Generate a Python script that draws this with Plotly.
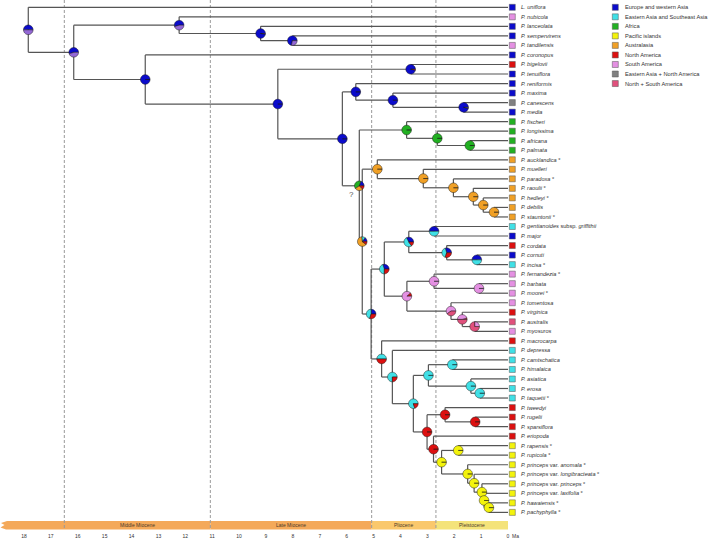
import math
import plotly.graph_objects as go

# ---------------- data ----------------
region_codes = ["EU", "EA", "AF", "PI", "AU", "NA", "SA", "EANA", "NSA"]
region_names = ["Europe and western Asia", "Eastern Asia and Southeast Asia", "Africa",
                "Pacific islands", "Australasia", "North America", "South America",
                "Eastern Asia + North America", "North + South America"]
region_colors = ["#0B0BCB", "#40E0E6", "#22B022", "#F3F30C", "#F0A026", "#DC1010",
                 "#E490E2", "#808080", "#E0507C"]
extra_colors = {"PU": "#9468D6"}

tip_names = ["L. uniflora", "P. nubicola", "P. lanceolata", "P. sempervirens", "P. tandilensis",
             "P. coronopus", "P. bigelovii", "P. tenuiflora", "P. reniformis", "P. maxima",
             "P. canescens", "P. media", "P. fischeri", "P. longissima", "P. africana",
             "P. palmata", "P. aucklandica", "P. muelleri", "P. paradoxa", "P. raoulii",
             "P. hedleyi", "P. debilis", "P. stauntonii", "P. gentianoides|subsp.|griffithii",
             "P. major", "P. cordata", "P. cornuti", "P. incisa", "P. fernandezia",
             "P. barbata", "P. moorei", "P. tomentosa", "P. virginica", "P. australis",
             "P. myosuros", "P. macrocarpa", "P. depressa", "P. camtschatica", "P. himalaica",
             "P. asiatica", "P. erosa", "P. taquetii", "P. tweedyi", "P. rugelii",
             "P. sparsiflora", "P. eriopoda", "P. rapensis", "P. rupicola",
             "P. princeps|var.|anomala", "P. princeps|var.|longibracteata",
             "P. princeps|var.|princeps", "P. princeps|var.|laxifolia",
             "P. hawaiensis", "P. pachyphylla"]
tip_regions = ["EU", "SA", "EU", "EU", "SA", "EU", "NA", "EU", "EU", "EU", "EANA", "EU",
               "AF", "AF", "AF", "AF", "AU", "AU", "AU", "AU", "AU", "AU", "AU",
               "EA", "EU", "NA", "EU", "EA", "SA", "SA", "SA", "SA", "NA", "NSA", "SA",
               "NA", "EA", "EA", "EA", "EA", "EA", "EA", "NA", "NA", "NA", "NA",
               "PI", "PI", "PI", "PI", "PI", "PI", "PI", "PI"]
tip_star = [0, 0, 0, 0, 0, 0, 0, 0, 0, 0, 0, 0, 0, 0, 0, 0, 1, 0, 1, 1, 1, 0, 1,
            0, 0, 0, 0, 1, 1, 0, 1, 0, 0, 0, 0, 0, 0, 0, 0, 0, 0, 1, 0, 0, 0, 0,
            1, 1, 1, 1, 1, 1, 1, 1]
tip_parent = [1, 3, 4, 5, 5, 6, 8, 8, 10, 11, 12, 12, 14, 15, 16, 16, 18, 19, 20, 21, 22, 23, 23,
              27, 27, 28, 29, 29, 31, 32, 32, 33, 34, 35, 35, 36, 37, 40, 40, 41, 42, 42,
              44, 45, 45, 46, 48, 48, 49, 50, 51, 52, 53, 53]

# internal nodes n1..n53 (age in Ma, parent index, ancestral-area pie)
node_age = [17.84, 16.15, 12.23, 9.20, 8.02, 13.49, 8.56, 3.62, 6.16, 5.66,
            4.28, 1.65, 5.53, 3.77, 2.63, 1.42, 5.42, 4.86, 3.15, 2.03,
            1.29, 0.92, 0.52, 5.09, 4.60, 3.69, 2.75, 2.28, 1.16, 3.76,
            2.75, 1.08, 2.12, 1.70, 1.24, 4.70, 4.30, 3.52, 2.96, 2.07,
            1.38, 1.05, 3.01, 2.34, 1.22, 2.77, 2.47, 1.85, 1.50, 1.26,
            0.97, 0.89, 0.71]
node_parent = [0, 1, 2, 3, 4, 2, 6, 7, 7, 9, 10, 11, 9, 13, 14, 15, 13, 17, 18, 19,
               20, 21, 22, 17, 24, 25, 26, 26, 28, 25, 30, 31, 30, 33, 34, 24, 36, 37, 38, 39,
               39, 41, 38, 43, 44, 43, 46, 47, 47, 49, 50, 51, 52]
node_pie = ["EU:0.5 PU:0.5", "EU:0.55 PU:0.45", "EU:0.55 PU:0.45", "EU:0.98 PU:0.02",
            "EU:0.72 PU:0.28", "EU:1", "EU:1", "EU:0.97 NA:0.03", "EU:1", "EU:1",
            "EU:1", "EU:0.97 EANA:0.03", "EU:0.2 AF:0.4 AU:0.28 NA:0.12", "AF:1", "AF:1", "AF:1",
            "EU:0.15 EA:0.12 AU:0.63 NA:0.1", "AU:1", "AU:1", "AU:1",
            "AU:1", "AU:1", "AU:1", "EU:0.25 EA:0.45 NA:0.3", "EU:0.3 EA:0.45 NA:0.25",
            "EU:0.33 EA:0.52 NA:0.15", "EU:0.5 EA:0.5", "EU:0.3 EA:0.4 NA:0.3", "EU:0.5 EA:0.5",
            "NA:0.12 SA:0.88", "SA:1", "SA:1", "SA:0.6 NSA:0.4", "NA:0.05 SA:0.45 NSA:0.5",
            "SA:0.25 NSA:0.75", "EA:0.5 NA:0.5", "EA:0.75 NA:0.25", "EA:0.8 NA:0.2",
            "EA:1", "EA:1", "EA:1", "EA:1", "NA:1", "NA:1", "NA:1", "NA:1",
            "PI:1", "PI:1", "PI:1", "PI:1", "PI:1", "PI:1", "PI:1"]

uncertain_node = 13  # node marked with "?"

epoch_names = ["Middle Miocene", "Late Miocene", "Pliocene", "Pleistocene"]
epoch_start = [16.5, 11.07, 5.07, 2.68]
epoch_end = [11.07, 5.07, 2.68, 0.0]
epoch_colors = ["#F4A95A", "#F4A95A", "#FAC86C", "#F4E37A"]

tick_values = list(range(0, 19))

# ---------------- geometry ----------------
W, H = 709, 540
MB = 8
PX_MA = 26.89
X0_PX = 508.0
ROW_PX = 9.53
ROW0_PX = 7.3
PLOT_H = H - MB
FONT = "Liberation Sans, Arial, sans-serif"


def mx(px):
    return (X0_PX - px) / PX_MA


def ry(py):
    return 1 + (py - ROW0_PX) / ROW_PX


x_range = [mx(0), mx(W)]
y_range = [ry(PLOT_H), ry(0)]

color_of = dict(zip(region_codes, region_colors))
color_of.update(extra_colors)

n_nodes = len(node_age)
n_tips = len(tip_names)
children = {i: [] for i in range(1, n_nodes + 1)}
for t, p in enumerate(tip_parent):
    children[p].append(("t", t))
for k, p in enumerate(node_parent):
    if p:
        children[p].append(("n", k + 1))

tip_y = [i + 1 for i in range(n_tips)]
node_y = {}
for k in range(n_nodes, 0, -1):
    ys = [tip_y[c] if kind == "t" else node_y[c] for kind, c in children[k]]
    node_y[k] = (min(ys) + max(ys)) / 2.0


def pos(kind, c):
    if kind == "t":
        return 0.0, tip_y[c]
    return node_age[c - 1], node_y[c]


# tree branches
lx, ly = [], []
for k in range(1, n_nodes + 1):
    a, y = node_age[k - 1], node_y[k]
    cys = []
    for kind, c in children[k]:
        ca, cy = pos(kind, c)
        cys.append(cy)
        lx += [a, ca, None]
        ly += [cy, cy, None]
    lx += [a, a, None]
    ly += [min(cys), max(cys), None]

fig = go.Figure()
fig.add_trace(go.Scatter(x=lx, y=ly, mode="lines", line=dict(color="#555555", width=1.2),
                         hoverinfo="skip"))

shapes = []
# epoch band
band_top, band_bot = ry(521), ry(529.5)
left = x_range[0]
for i, name in enumerate(epoch_names):
    x_a = left if i == 0 else epoch_start[i]
    x_b = epoch_end[i]
    if i == 0:
        pts = [(mx(7), band_top), (mx(1), ry(523)), (mx(4.5), ry(525)), (mx(0.5), ry(527.5)),
               (mx(6), band_bot), (x_b, band_bot), (x_b, band_top)]
        path = "M " + " L ".join(f"{px:.4f},{py:.4f}" for px, py in pts) + " Z"
        shapes.append(dict(type="path", path=path, xref="x", yref="y", fillcolor=epoch_colors[i],
                           line=dict(width=0), layer="below"))
    else:
        shapes.append(dict(type="rect", x0=x_a, x1=x_b, y0=band_top, y1=band_bot, xref="x", yref="y",
                           fillcolor=epoch_colors[i], line=dict(width=0), layer="below"))

# epoch boundary dashed lines
for b in epoch_start:
    shapes.append(dict(type="line", x0=b, x1=b, y0=ry(0), y1=band_bot, xref="x", yref="y",
                       line=dict(color="#9a9a9a", width=1, dash="3px,2px"), layer="below"))

# node pies
R = 4.8
for k in range(1, n_nodes + 1):
    a, y = node_age[k - 1], node_y[k]
    parts = [(s.split(":")[0], float(s.split(":")[1])) for s in node_pie[k - 1].split()]
    total = sum(f for _, f in parts)
    ang = 0.0
    for code, f in parts:
        span = 2 * math.pi * f / total
        nseg = max(3, int(span / (2 * math.pi) * 48) + 1)
        pts = [(a, y)]
        for j in range(nseg + 1):
            t = ang + span * j / nseg
            pts.append((a - R * math.cos(t) / PX_MA, y - R * math.sin(t) / ROW_PX))
        path = "M " + " L ".join(f"{px:.5f},{py:.5f}" for px, py in pts) + " Z"
        shapes.append(dict(type="path", path=path, xref="x", yref="y", fillcolor=color_of[code],
                           line=dict(color="#1a1a1a", width=0.5), layer="above"))
        ang += span

# tip squares
fig.add_trace(go.Scatter(x=[mx(512.3)] * n_tips, y=tip_y, mode="markers",
                         marker=dict(symbol="square", size=6, color=[color_of[r] for r in tip_regions],
                                     line=dict(color="#555555", width=0.5)),
                         hoverinfo="skip"))

# legend squares
leg_y = [i + 1 for i in range(len(region_codes))]
fig.add_trace(go.Scatter(x=[mx(615.3)] * len(region_codes), y=leg_y, mode="markers",
                         marker=dict(symbol="square", size=6, color=region_colors,
                                     line=dict(color="#555555", width=0.5)),
                         hoverinfo="skip"))

annotations = []


def fmt_name(n):
    if "|" in n:
        a, rank, b = n.split("|")
        return f"<i>{a}</i> {rank} <i>{b}</i>"
    return f"<i>{n}</i>"


for i, n in enumerate(tip_names):
    txt = fmt_name(n)
    if tip_star[i]:
        txt += " <span style='color:#777777'><b>*</b></span>"
    annotations.append(dict(x=mx(519), y=tip_y[i], xref="x", yref="y", text=txt, showarrow=False,
                            xanchor="left", yanchor="middle",
                            font=dict(family=FONT, size=5.6, color="#333333")))

for i, n in enumerate(region_names):
    annotations.append(dict(x=mx(623.3), y=leg_y[i], xref="x", yref="y", text=n, showarrow=False,
                            xanchor="left", yanchor="middle",
                            font=dict(family=FONT, size=5.7, color="#333333")))

for i, n in enumerate(epoch_names):
    annotations.append(dict(x=(epoch_start[i] + epoch_end[i]) / 2, y=ry(525.3), xref="x", yref="y",
                            text=n, showarrow=False, xanchor="center", yanchor="middle",
                            font=dict(family=FONT, size=5, color="#4a3a2a")))

annotations.append(dict(x=node_age[uncertain_node - 1], y=node_y[uncertain_node], xref="x", yref="y",
                        text="?", showarrow=False, xshift=-7.5, yshift=-8.5,
                        font=dict(family=FONT, size=8, color="#555555")))
annotations.append(dict(x=0, y=-(535.6 - PLOT_H) / PLOT_H, xref="x", yref="paper", text="Ma",
                        showarrow=False, xanchor="left", yanchor="middle", xshift=2,
                        font=dict(family=FONT, size=5, color="#333333")))

fig.update_layout(
    width=W, height=H,
    margin=dict(l=0, r=0, t=0, b=MB, pad=0),
    paper_bgcolor="white", plot_bgcolor="white",
    showlegend=False,
    shapes=shapes,
    annotations=annotations,
    xaxis=dict(range=x_range, showgrid=False, zeroline=False, showline=False,
               tickvals=tick_values, ticktext=[str(v) for v in tick_values],
               ticks="", tickfont=dict(family=FONT, size=5, color="#333333"), automargin=False),
    yaxis=dict(range=y_range, visible=False, automargin=False),
)

fig.write_html("out.html", config={"displayModeBar": False},
               post_script="document.body.style.margin='0';document.body.style.overflow='hidden';")
